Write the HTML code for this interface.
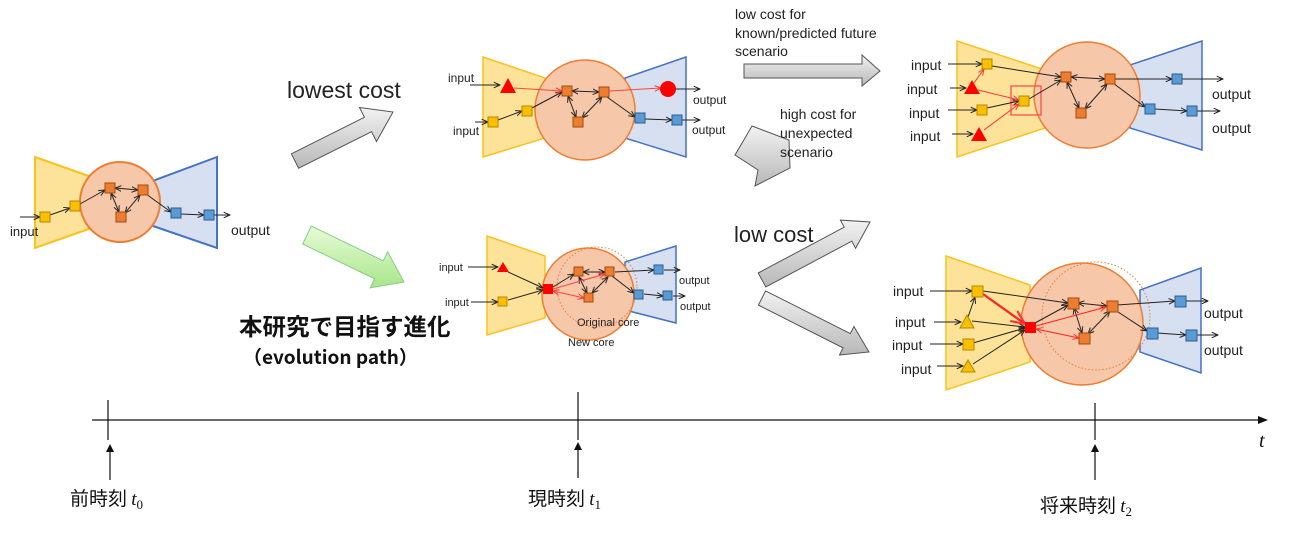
<!DOCTYPE html>
<html><head><meta charset="utf-8"><style>
body{margin:0;background:#fff;}
svg{display:block;font-family:"Liberation Sans","DejaVu Sans","Noto Sans CJK JP",sans-serif;}
</style></head><body>
<svg width="1289" height="540" viewBox="0 0 1289 540" xmlns="http://www.w3.org/2000/svg">
<defs>
<marker id="a" viewBox="0 0 10 10" refX="9" refY="5" markerWidth="7" markerHeight="7" orient="auto-start-reverse"><path d="M0,1 L9,5 L0,9" fill="none" stroke="#222" stroke-width="1.4"/></marker>
<marker id="r" viewBox="0 0 10 10" refX="9" refY="5" markerWidth="7" markerHeight="7" orient="auto-start-reverse"><path d="M0,1 L9,5 L0,9" fill="none" stroke="#f33" stroke-width="1.4"/></marker>
<linearGradient id="g" x1="0" y1="0" x2="0" y2="1"><stop offset="0" stop-color="#f2f2f2"/><stop offset="1" stop-color="#b8b8b8"/></linearGradient>
<linearGradient id="gg" x1="0" y1="0" x2="0" y2="1"><stop offset="0" stop-color="#e8fbd8"/><stop offset="1" stop-color="#a8e68a"/></linearGradient>
</defs>
<g stroke-width="1">
<!-- Network 1 -->
<polygon points="35,157 100,180 100,225 35,248" fill="#fde39a" stroke="#f8c31c" stroke-width="2"/>
<polygon points="217,157 150,182 150,225 217,248" fill="#d7e0f1" stroke="#4472c4" stroke-width="2"/>
<circle cx="120" cy="202" r="40" fill="#f6c7a8" stroke="#ed7d31" stroke-width="2"/>
<g stroke="#222" fill="none" marker-end="url(#a)">
<line x1="20" y1="217" x2="40" y2="217"/><line x1="50" y1="215" x2="70" y2="208"/><line x1="80" y1="204" x2="105" y2="190"/>
<line x1="115" y1="188" x2="138" y2="190" marker-start="url(#a)"/><line x1="111" y1="193" x2="119" y2="212" marker-start="url(#a)"/><line x1="140" y1="195" x2="125" y2="213" marker-start="url(#a)"/>
<line x1="146" y1="194" x2="171" y2="212"/><line x1="181" y1="214" x2="204" y2="215"/><line x1="214" y1="215" x2="230" y2="215"/>
</g>
<g stroke-width="1"><rect x="40" y="212" width="10" height="10" fill="#fcbf00" stroke="#b08800"/><rect x="70" y="201" width="10" height="10" fill="#fcbf00" stroke="#b08800"/>
<rect x="105" y="183" width="10" height="10" fill="#ed7d31" stroke="#a04c10"/><rect x="138" y="185" width="10" height="10" fill="#ed7d31" stroke="#a04c10"/><rect x="116" y="212" width="10" height="10" fill="#ed7d31" stroke="#a04c10"/>
<rect x="171" y="208" width="10" height="10" fill="#5b9bd5" stroke="#2e5c8a"/><rect x="204" y="210" width="10" height="10" fill="#5b9bd5" stroke="#2e5c8a"/></g>
<text x="10" y="236" font-size="13" fill="#222">input</text><text x="231" y="235" font-size="14" fill="#222">output</text>

<!-- Network 2 -->
<polygon points="483,57 545,78 545,138 483,157" fill="#fde39a" stroke="#f8c31c" stroke-width="1.5"/>
<polygon points="686,57 625,78 625,138 686,157" fill="#d7e0f1" stroke="#4472c4" stroke-width="1.5"/>
<circle cx="585" cy="110" r="50" fill="#f6c7a8" stroke="#ed7d31" stroke-width="1.5"/>
<g stroke="#222" fill="none" marker-end="url(#a)">
<line x1="470" y1="85" x2="500" y2="85"/><line x1="475" y1="122" x2="488" y2="122"/><line x1="498" y1="120" x2="522" y2="111"/><line x1="532" y1="108" x2="562" y2="92"/>
<line x1="572" y1="91" x2="599" y2="92" marker-start="url(#a)"/><line x1="568" y1="96" x2="576" y2="117" marker-start="url(#a)"/><line x1="602" y1="97" x2="582" y2="118" marker-start="url(#a)"/>
<line x1="607" y1="97" x2="635" y2="117"/><line x1="645" y1="119" x2="672" y2="120"/><line x1="682" y1="120" x2="700" y2="120"/><line x1="675" y1="89" x2="700" y2="89"/>
</g>
<g stroke="#f44" fill="none" marker-end="url(#r)"><line x1="514" y1="88" x2="562" y2="91"/><line x1="609" y1="91" x2="661" y2="88"/></g>
<polygon points="508,78 500,93 516,93" fill="#f00"/><circle cx="668" cy="89" r="8" fill="#f00"/>
<rect x="488" y="117" width="10" height="10" fill="#fcbf00" stroke="#b08800"/><rect x="522" y="106" width="10" height="10" fill="#fcbf00" stroke="#b08800"/>
<rect x="562" y="86" width="10" height="10" fill="#ed7d31" stroke="#a04c10"/><rect x="599" y="87" width="10" height="10" fill="#ed7d31" stroke="#a04c10"/><rect x="573" y="117" width="10" height="10" fill="#ed7d31" stroke="#a04c10"/>
<rect x="635" y="113" width="10" height="10" fill="#5b9bd5" stroke="#2e5c8a"/><rect x="672" y="115" width="10" height="10" fill="#5b9bd5" stroke="#2e5c8a"/>
<text x="448" y="82" font-size="12" fill="#222">input</text><text x="453" y="135" font-size="12" fill="#222">input</text>
<text x="693" y="104" font-size="12" fill="#222">output</text><text x="692" y="134" font-size="12" fill="#222">output</text>

<!-- Network 3 -->
<polygon points="957,41 1045,70 1045,128 957,157" fill="#fde39a" stroke="#f8c31c" stroke-width="1.5"/>
<polygon points="1202,41 1130,65 1130,128 1202,150" fill="#d7e0f1" stroke="#4472c4" stroke-width="1.5"/>
<circle cx="1087" cy="95" r="53" fill="#f6c7a8" stroke="#ed7d31" stroke-width="1.5"/>
<rect x="1011" y="86" width="30" height="29" fill="none" stroke="#f44" stroke-width="1.2"/>
<g stroke="#222" fill="none" marker-end="url(#a)">
<line x1="948" y1="64" x2="982" y2="64"/><line x1="950" y1="88" x2="966" y2="88"/><line x1="948" y1="110" x2="977" y2="110"/><line x1="952" y1="134" x2="973" y2="134"/>
<line x1="992" y1="66" x2="1061" y2="77"/><line x1="987" y1="108" x2="1019" y2="101"/><line x1="1029" y1="99" x2="1061" y2="80"/>
<line x1="1071" y1="77" x2="1105" y2="79" marker-start="url(#a)"/><line x1="1067" y1="82" x2="1079" y2="108" marker-start="url(#a)"/><line x1="1107" y1="84" x2="1085" y2="109" marker-start="url(#a)"/>
<line x1="1115" y1="79" x2="1172" y2="79"/><line x1="1182" y1="79" x2="1223" y2="79"/><line x1="1113" y1="83" x2="1145" y2="107"/><line x1="1155" y1="109" x2="1187" y2="111"/><line x1="1197" y1="111" x2="1220" y2="111"/>
</g>
<g stroke="#f33" fill="none" marker-end="url(#r)"><line x1="974" y1="83" x2="984" y2="69"/><line x1="978" y1="90" x2="1019" y2="100"/><line x1="984" y1="130" x2="1019" y2="104"/></g>
<polygon points="972,80 964,94 980,94" fill="#f00"/><polygon points="979,127 971,141 987,141" fill="#f00"/>
<rect x="982" y="59" width="10" height="10" fill="#fcbf00" stroke="#b08800"/><rect x="977" y="105" width="10" height="10" fill="#fcbf00" stroke="#b08800"/><rect x="1019" y="96" width="10" height="10" fill="#fcbf00" stroke="#b08800"/>
<rect x="1061" y="72" width="10" height="10" fill="#ed7d31" stroke="#a04c10"/><rect x="1105" y="74" width="10" height="10" fill="#ed7d31" stroke="#a04c10"/><rect x="1076" y="108" width="10" height="10" fill="#ed7d31" stroke="#a04c10"/>
<rect x="1172" y="74" width="10" height="10" fill="#5b9bd5" stroke="#2e5c8a"/><rect x="1145" y="104" width="10" height="10" fill="#5b9bd5" stroke="#2e5c8a"/><rect x="1187" y="106" width="10" height="10" fill="#5b9bd5" stroke="#2e5c8a"/>
<g font-size="14" fill="#222"><text x="911" y="70">input</text><text x="907" y="94">input</text><text x="909" y="118">input</text><text x="910" y="141">input</text>
<text x="1212" y="99">output</text><text x="1212" y="133">output</text></g>

<!-- Network 4 -->
<polygon points="487,236 545,256 545,318 487,335" fill="#fde39a" stroke="#f8c31c" stroke-width="1.5"/>
<polygon points="676,246 625,262 625,310 676,323" fill="#d7e0f1" stroke="#4472c4" stroke-width="1.5"/>
<circle cx="588" cy="294" r="46" fill="#f6c7a8" stroke="#ed7d31" stroke-width="1.5"/>
<circle cx="597" cy="287" r="40" fill="none" stroke="#ed7d31" stroke-width="1" stroke-dasharray="1.5,2"/>
<g stroke="#222" fill="none" marker-end="url(#a)">
<line x1="468" y1="267" x2="498" y2="267"/><line x1="471" y1="302" x2="498" y2="302"/><line x1="508" y1="272" x2="543" y2="288"/><line x1="508" y1="300" x2="543" y2="290"/>
<line x1="553" y1="287" x2="574" y2="274"/><line x1="583" y1="272" x2="605" y2="272" marker-start="url(#a)"/><line x1="579" y1="277" x2="587" y2="293" marker-start="url(#a)"/><line x1="608" y1="277" x2="592" y2="293" marker-start="url(#a)"/>
<line x1="615" y1="272" x2="654" y2="270"/><line x1="664" y1="270" x2="680" y2="270"/><line x1="612" y1="276" x2="634" y2="293"/><line x1="644" y1="294" x2="663" y2="296"/><line x1="673" y1="296" x2="685" y2="296"/>
</g>
<g stroke="#f44" fill="none" marker-end="url(#r)"><line x1="553" y1="289" x2="605" y2="274"/><line x1="553" y1="291" x2="584" y2="298" marker-start="url(#r)"/></g>
<polygon points="503,262 497,272 509,272" fill="#f00"/>
<rect x="498" y="297" width="9" height="9" fill="#fcbf00" stroke="#b08800"/><rect x="543" y="284" width="10" height="10" fill="#f00"/>
<rect x="574" y="267" width="9" height="9" fill="#ed7d31" stroke="#a04c10"/><rect x="605" y="267" width="9" height="9" fill="#ed7d31" stroke="#a04c10"/><rect x="584" y="293" width="9" height="9" fill="#ed7d31" stroke="#a04c10"/>
<rect x="654" y="265" width="9" height="9" fill="#5b9bd5" stroke="#2e5c8a"/><rect x="634" y="290" width="9" height="9" fill="#5b9bd5" stroke="#2e5c8a"/><rect x="663" y="291" width="9" height="9" fill="#5b9bd5" stroke="#2e5c8a"/>
<g font-size="11" fill="#222"><text x="439" y="271">input</text><text x="445" y="306">input</text><text x="679" y="284">output</text><text x="680" y="310">output</text>
<text x="577" y="326">Original core</text><text x="568" y="346">New core</text></g>

<!-- Network 5 -->
<polygon points="946,256 1030,285 1030,362 946,390" fill="#fde39a" stroke="#f8c31c" stroke-width="1.5"/>
<polygon points="1201,268 1140,290 1140,352 1201,373" fill="#d7e0f1" stroke="#4472c4" stroke-width="1.5"/>
<circle cx="1082" cy="324" r="61" fill="#f6c7a8" stroke="#ed7d31" stroke-width="1.5"/>
<circle cx="1096" cy="316" r="54" fill="none" stroke="#ed7d31" stroke-width="1" stroke-dasharray="1.5,2"/>
<g stroke="#222" fill="none" marker-end="url(#a)">
<line x1="930" y1="291" x2="972" y2="291"/><line x1="934" y1="322" x2="961" y2="322"/><line x1="930" y1="344" x2="963" y2="344"/><line x1="937" y1="366" x2="963" y2="366"/>
<line x1="968" y1="317" x2="975" y2="297"/><line x1="983" y1="291" x2="1068" y2="303"/><line x1="972" y1="321" x2="1025" y2="327"/><line x1="973" y1="343" x2="1025" y2="328"/><line x1="973" y1="364" x2="1025" y2="330"/>
<line x1="1035" y1="323" x2="1068" y2="305"/><line x1="1078" y1="303" x2="1107" y2="306" marker-start="url(#a)"/><line x1="1074" y1="308" x2="1082" y2="333" marker-start="url(#a)"/><line x1="1110" y1="311" x2="1088" y2="334" marker-start="url(#a)"/>
<line x1="1117" y1="305" x2="1175" y2="301"/><line x1="1185" y1="301" x2="1208" y2="301"/><line x1="1115" y1="310" x2="1147" y2="331"/><line x1="1157" y1="333" x2="1186" y2="335"/><line x1="1196" y1="335" x2="1218" y2="335"/>
</g>
<g stroke="#f22" fill="none" marker-end="url(#r)"><line x1="983" y1="294" x2="1025" y2="324" stroke-width="2.2"/><line x1="1036" y1="326" x2="1106" y2="307"/><line x1="1036" y1="329" x2="1079" y2="338" marker-start="url(#r)"/></g>
<rect x="972" y="286" width="11" height="11" fill="#fcbf00" stroke="#b08800"/><polygon points="967,315 960,328 974,328" fill="#fcbf00" stroke="#b08800"/>
<rect x="963" y="339" width="11" height="11" fill="#fcbf00" stroke="#b08800"/><polygon points="968,360 961,372 975,372" fill="#fcbf00" stroke="#b08800"/>
<rect x="1025" y="322" width="11" height="11" fill="#f00"/>
<rect x="1068" y="298" width="11" height="11" fill="#ed7d31" stroke="#a04c10"/><rect x="1107" y="301" width="11" height="11" fill="#ed7d31" stroke="#a04c10"/><rect x="1079" y="333" width="11" height="11" fill="#ed7d31" stroke="#a04c10"/>
<rect x="1175" y="296" width="11" height="11" fill="#5b9bd5" stroke="#2e5c8a"/><rect x="1147" y="328" width="11" height="11" fill="#5b9bd5" stroke="#2e5c8a"/><rect x="1186" y="330" width="11" height="11" fill="#5b9bd5" stroke="#2e5c8a"/>
<g font-size="14" fill="#222"><text x="893" y="296">input</text><text x="895" y="327">input</text><text x="892" y="350">input</text><text x="901" y="374">input</text>
<text x="1204" y="318">output</text><text x="1204" y="355">output</text></g>
</g>

<!-- Block arrows -->
<g stroke="#555" stroke-width="1" fill="url(#g)">
<polygon points="291.4,153.8 364.4,117.3 359.5,107.5 393,112 376.5,141.5 371.6,131.7 298.6,168.2"/>
<polygon points="744,64 862,64 862,55 880,71 862,86 862,78 744,78"/>
<polygon points="752,126 789,140 790,168 755,186 758,170 735,155"/>
<polygon points="758.2,273 844.2,227.2 840.4,220.1 870,222 855.6,248.3 851.8,241.2 765.8,287"/>
<polygon points="765.6,290.9 850.3,333.6 853.9,326.5 869,352 839.5,355 843.1,347.9 758.4,305.1"/>
</g>
<polygon points="311.35,226.02 383.25,260.82 387.6,251.8 404,282 370.2,287.8 374.55,278.78 302.65,243.98" fill="url(#gg)" stroke="#8c8" stroke-width="1"/>

<!-- Labels -->
<text x="287" y="98" font-size="23" fill="#222">lowest cost</text>
<g font-size="14" fill="#222"><text x="735" y="19">low cost for</text><text x="735" y="38">known/predicted future</text><text x="735" y="56">scenario</text>
<text x="780" y="119">high cost for</text><text x="780" y="138">unexpected</text><text x="780" y="157">scenario</text></g>
<text x="734" y="242" font-size="22" fill="#222">low cost</text>
<text x="239" y="335" font-size="23.5" font-weight="bold" fill="#111" font-family="'Noto Sans CJK JP',sans-serif">本研究で目指す進化</text>
<text x="243" y="364" font-size="19" font-weight="bold" fill="#111" font-family="'Noto Sans CJK JP',sans-serif">（evolution path）</text>

<!-- Timeline -->
<line x1="92" y1="420" x2="1262" y2="420" stroke="#111" stroke-width="1.2"/>
<polygon points="1268,420 1258,416 1258,424" fill="#111"/>
<g stroke="#111" stroke-width="1.2"><line x1="108" y1="400" x2="108" y2="440"/><line x1="578" y1="392" x2="578" y2="440"/><line x1="1095" y1="403" x2="1095" y2="440"/>
<line x1="110" y1="480" x2="110" y2="450"/><line x1="578" y1="478" x2="578" y2="448"/><line x1="1095" y1="480" x2="1095" y2="450"/></g>
<g fill="#111"><polygon points="110,444 106,452 114,452"/><polygon points="578,442 574,450 582,450"/><polygon points="1095,444 1091,452 1099,452"/></g>
<text x="1259" y="447" font-size="20" font-style="italic" font-family="'Liberation Serif',serif" fill="#111">t</text>
<g font-size="19" fill="#111" font-family="'Noto Sans CJK JP',sans-serif">
<text x="70" y="505">前時刻 <tspan font-family="'Liberation Serif',serif" font-style="italic">t</tspan><tspan font-family="'Liberation Serif',serif" font-size="13" dy="4">0</tspan></text>
<text x="528" y="505">現時刻 <tspan font-family="'Liberation Serif',serif" font-style="italic">t</tspan><tspan font-family="'Liberation Serif',serif" font-size="13" dy="4">1</tspan></text>
<text x="1040" y="512">将来時刻 <tspan font-family="'Liberation Serif',serif" font-style="italic">t</tspan><tspan font-family="'Liberation Serif',serif" font-size="13" dy="4">2</tspan></text>
</g>
</svg>
</body></html>
